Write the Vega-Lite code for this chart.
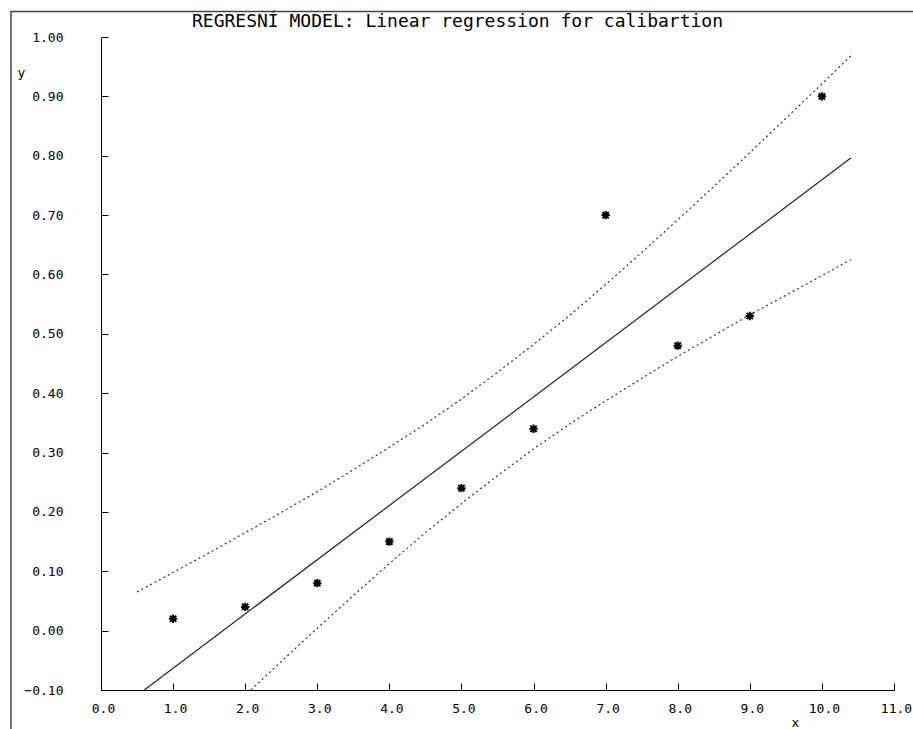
{
  "$schema": "https://vega.github.io/schema/vega-lite/v6.json",
  "width": 793,
  "height": 653,
  "autosize": "none",
  "padding": {"left": 101, "top": 37, "right": 19, "bottom": 39},
  "background": "white",
  "config": {"view": {"stroke": null}, "font": "DejaVu Sans Mono"},
  "title": {
    "text": "REGRESNÍ MODEL: Linear regression for calibartion",
    "font": "DejaVu Sans Mono",
    "fontSize": 18,
    "fontWeight": "normal",
    "color": "black",
    "anchor": "middle",
    "frame": "group",
    "dx": -40,
    "offset": 0,
    "dy": 34,
    "baseline": "alphabetic"
  },
  "datasets": {
    "frame": [{"x": -1.248, "x2": 12.5, "y": 1.0428, "y2": -0.3}],
    "points": [
      {"x": 1, "y": 0.02}, {"x": 2, "y": 0.04}, {"x": 3, "y": 0.08}, {"x": 4, "y": 0.15},
      {"x": 5, "y": 0.24}, {"x": 6, "y": 0.34}, {"x": 7, "y": 0.70}, {"x": 8, "y": 0.48},
      {"x": 9, "y": 0.53}, {"x": 10, "y": 0.90}
    ],
    "fit": [{"x": 0.6, "y": -0.100}, {"x": 10.4, "y": 0.796}],
    "bands": [
      {"band": "upper", "x": 0.5, "y": 0.065}, {"band": "upper", "x": 1.0, "y": 0.098},
      {"band": "upper", "x": 1.5, "y": 0.131}, {"band": "upper", "x": 2.0, "y": 0.165},
      {"band": "upper", "x": 2.5, "y": 0.199}, {"band": "upper", "x": 3.0, "y": 0.234},
      {"band": "upper", "x": 3.5, "y": 0.271}, {"band": "upper", "x": 4.0, "y": 0.309},
      {"band": "upper", "x": 4.5, "y": 0.348}, {"band": "upper", "x": 5.0, "y": 0.390},
      {"band": "upper", "x": 5.5, "y": 0.435}, {"band": "upper", "x": 6.0, "y": 0.482},
      {"band": "upper", "x": 6.5, "y": 0.531}, {"band": "upper", "x": 7.0, "y": 0.583},
      {"band": "upper", "x": 7.5, "y": 0.637}, {"band": "upper", "x": 8.0, "y": 0.692},
      {"band": "upper", "x": 8.5, "y": 0.748}, {"band": "upper", "x": 9.0, "y": 0.805},
      {"band": "upper", "x": 9.5, "y": 0.863}, {"band": "upper", "x": 10.0, "y": 0.921},
      {"band": "upper", "x": 10.4, "y": 0.968},
      {"band": "lower", "x": 2.08, "y": -0.100}, {"band": "lower", "x": 2.5, "y": -0.052},
      {"band": "lower", "x": 3.0, "y": 0.004}, {"band": "lower", "x": 3.5, "y": 0.059},
      {"band": "lower", "x": 4.0, "y": 0.113}, {"band": "lower", "x": 4.5, "y": 0.165},
      {"band": "lower", "x": 5.0, "y": 0.214}, {"band": "lower", "x": 5.5, "y": 0.261},
      {"band": "lower", "x": 6.0, "y": 0.306}, {"band": "lower", "x": 6.5, "y": 0.348},
      {"band": "lower", "x": 7.0, "y": 0.387}, {"band": "lower", "x": 7.5, "y": 0.425},
      {"band": "lower", "x": 8.0, "y": 0.462}, {"band": "lower", "x": 8.5, "y": 0.497},
      {"band": "lower", "x": 9.0, "y": 0.532}, {"band": "lower", "x": 9.5, "y": 0.565},
      {"band": "lower", "x": 10.0, "y": 0.598}, {"band": "lower", "x": 10.4, "y": 0.625}
    ]
  },
  "encoding": {
    "x": {
      "field": "x",
      "type": "quantitative",
      "scale": {"domain": [0, 11], "nice": false, "zero": false},
      "axis": {
        "values": [0, 1, 2, 3, 4, 5, 6, 7, 8, 9, 10, 11],
        "format": ".1f",
        "grid": false,
        "tickSize": -7,
        "tickColor": "black",
        "domainColor": "black",
        "domainWidth": 1,
        "labelFont": "DejaVu Sans Mono",
        "labelFontSize": 13,
        "labelColor": "black",
        "labelPadding": 19,
        "labelOffset": 2,
        "labelFlush": false,
        "labelOverlap": false,
        "title": "x",
        "titleFont": "DejaVu Sans Mono",
        "titleFontSize": 13,
        "titleFontWeight": "normal",
        "titleColor": "black",
        "titleX": 694,
        "titleY": 36,
        "titleAlign": "center",
        "titleBaseline": "alphabetic"
      }
    },
    "y": {
      "field": "y",
      "type": "quantitative",
      "scale": {"domain": [-0.1, 1.0], "nice": false, "zero": false},
      "axis": {
        "values": [-0.1, 0, 0.1, 0.2, 0.3, 0.4, 0.5, 0.6, 0.7, 0.8, 0.9, 1.0],
        "format": ".2f",
        "grid": false,
        "tickSize": -7,
        "tickColor": "black",
        "domainColor": "black",
        "domainWidth": 1,
        "labelFont": "DejaVu Sans Mono",
        "labelFontSize": 13,
        "labelColor": "black",
        "labelPadding": 45,
        "labelFlush": false,
        "labelOverlap": false,
        "title": "y",
        "titleFont": "DejaVu Sans Mono",
        "titleFontSize": 13,
        "titleFontWeight": "normal",
        "titleColor": "black",
        "titleAngle": 0,
        "titleX": -80,
        "titleY": 35,
        "titleAlign": "center",
        "titleBaseline": "middle"
      }
    }
  },
  "layer": [
    {
      "data": {"name": "frame"},
      "mark": {"type": "rect", "filled": false, "stroke": "#444444", "strokeWidth": 1.5},
      "encoding": {
        "x2": {"field": "x2"},
        "y2": {"field": "y2"}
      }
    },
    {
      "data": {"name": "bands"},
      "mark": {"type": "line", "color": "#333333", "strokeWidth": 1.2, "strokeDash": [2, 3]},
      "encoding": {"detail": {"field": "band"}}
    },
    {
      "data": {"name": "fit"},
      "mark": {"type": "line", "color": "#222222", "strokeWidth": 1.2}
    },
    {
      "data": {"name": "points"},
      "mark": {
        "type": "point",
        "shape": "M-1,0L1,0M0,-1L0,1M-0.75,-0.75L0.75,0.75M-0.75,0.75L0.75,-0.75",
        "filled": false,
        "stroke": "black",
        "strokeWidth": 2,
        "size": 70,
        "opacity": 1
      }
    }
  ]
}
